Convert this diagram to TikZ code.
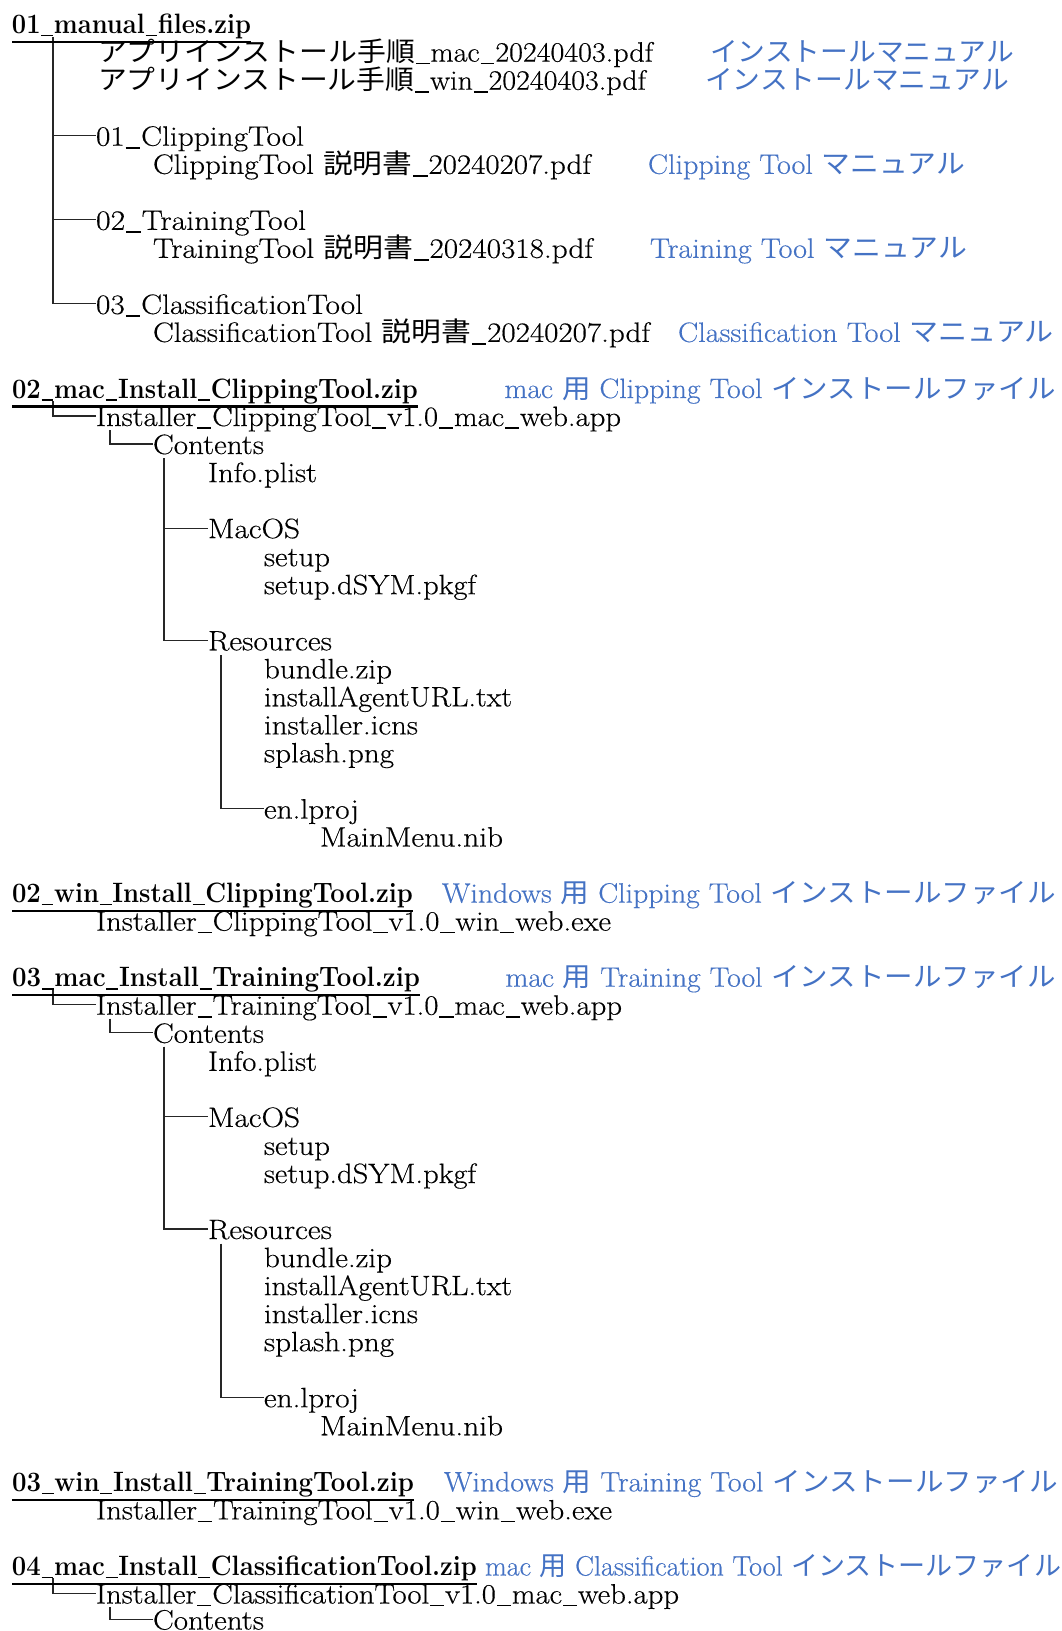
\documentclass[tikz,border=0pt]{standalone}
\usepackage{fontspec}
\usepackage{graphicx}
\setmainfont{Latin Modern Roman}[UprightFeatures={FakeBold=0.35}]
\newfontfamily\jp{Noto Sans CJK JP}[Scale=0.96]
\usetikzlibrary{calc}
\definecolor{mblue}{RGB}{68,114,196}
\newcommand{\fw}[2]{\resizebox{#1pt}{\height}{#2}}
\newcommand{\us}{\kern0.03em\rule[-0.1em]{0.46em}{0.05em}\kern0.03em}
\tikzset{
  txt/.style={anchor=base west, inner sep=0pt, outer sep=0pt, text height=23pt, text depth=3pt, font=\fontsize{28}{28}\selectfont},
  hd/.style={txt, font=\fontsize{28}{28}\selectfont\bfseries},
  bl/.style={txt, text=mblue},
  tree/.style={line width=1.1pt, black!85},
  uline/.style={line width=2.4pt, black},
}
\begin{document}
\begin{tikzpicture}[x=1pt, y=-1pt]
\useasboundingbox (0,0) rectangle (1061,1631);
\fill[white] (0,0) rectangle (1061,1631);

% ---------- 01_manual_files.zip ----------
\node[hd] (h1) at (12,33.6) {\fw{239}{01\us manual\us files.zip}};
\node[txt] (m0) at (98,61.6) {\fw{555}{{\jp アプリインストール手順}\us mac\us 20240403.pdf}};
\node[bl] (b0) at (710,61.6) {\fw{304}{\jp インストールマニュアル}};
\node[txt] (m1) at (98,89.7) {\fw{548}{{\jp アプリインストール手順}\us win\us 20240403.pdf}};
\node[bl] (b1) at (705,89.7) {\fw{304}{\jp インストールマニュアル}};
\node[txt] (m3) at (96,145.7) {\fw{208}{01\us ClippingTool}};
\node[txt] (m4) at (153,173.8) {\fw{438}{ClippingTool {\jp 説明書}\us 20240207.pdf}};
\node[bl] (b4) at (648,173.8) {\fw{317}{Clipping Tool {\jp マニュアル}}};
\node[txt] (m6) at (96,229.8) {\fw{210}{02\us TrainingTool}};
\node[txt] (m7) at (153,257.8) {\fw{440}{TrainingTool {\jp 説明書}\us 20240318.pdf}};
\node[bl] (b7) at (650,257.8) {\fw{317}{Training Tool {\jp マニュアル}}};
\node[txt] (m9) at (96,313.9) {\fw{267}{03\us ClassificationTool}};
\node[txt] (m10) at (153,341.9) {\fw{497}{ClassificationTool {\jp 説明書}\us 20240207.pdf}};
\node[bl] (b10) at (678,341.9) {\fw{376}{Classification Tool {\jp マニュアル}}};

\coordinate (t1) at (53,37);
\draw[tree] (t1) |- (m3.west);
\draw[tree] (t1) |- (m6.west);
\draw[tree] (t1) |- (m9.west);

% ---------- 02_mac_Install_ClippingTool.zip ----------
\node[hd] (h2) at (12,398.0) {\fw{406}{02\us mac\us Install\us ClippingTool.zip}};
\node[bl] (b12) at (504.5,398.0) {\fw{551}{mac {\jp 用} Clipping Tool {\jp インストールファイル}}};
\node[txt] (i2) at (96,426.0) {\fw{525}{Installer\us ClippingTool\us v1.0\us mac\us web.app}};
\node[txt] (c2) at (153,454.0) {\fw{111}{Contents}};
\node[txt] (p2) at (208,482.1) {\fw{109}{Info.plist}};
\node[txt] (o2) at (208,538.1) {\fw{92}{MacOS}};
\node[txt] (s2) at (264,566.2) {\fw{66}{setup}};
\node[txt] (d2) at (264,594.2) {\fw{212}{setup.dSYM.pkgf}};
\node[txt] (r2) at (208,650.3) {\fw{124}{Resources}};
\node[txt] (bz2) at (264,678.3) {\fw{128}{bundle.zip}};
\node[txt] (ia2) at (264,706.3) {\fw{248}{installAgentURL.txt}};
\node[txt] (ic2) at (264,734.4) {\fw{154}{installer.icns}};
\node[txt] (sp2) at (264,762.4) {\fw{130}{splash.png}};
\node[txt] (en2) at (264,818.5) {\fw{95}{en.lproj}};
\node[txt] (mm2) at (320,846.5) {\fw{183}{MainMenu.nib}};

\coordinate (a2) at (53,401);
\coordinate (k2) at (110,430);
\coordinate (v2) at (164,458);
\coordinate (w2) at (221,655);
\draw[tree] (a2) |- (i2.west);
\draw[tree] (k2) |- (c2.west);
\draw[tree] (v2) |- (o2.west);
\draw[tree] (v2) |- (r2.west);
\draw[tree] (w2) |- (en2.west);

% ---------- 02_win_Install_ClippingTool.zip ----------
\node[hd] (h3) at (12,902.6) {\fw{401}{02\us win\us Install\us ClippingTool.zip}};
\node[bl] (b30) at (442,902.6) {\fw{614}{Windows {\jp 用} Clipping Tool {\jp インストールファイル}}};
\node[txt] (i3) at (96,930.6) {\fw{515}{Installer\us ClippingTool\us v1.0\us win\us web.exe}};

% ---------- 03_mac_Install_TrainingTool.zip ----------
\node[hd] (h4) at (12,986.7) {\fw{408}{03\us mac\us Install\us TrainingTool.zip}};
\node[bl] (b33) at (505.5,986.7) {\fw{550}{mac {\jp 用} Training Tool {\jp インストールファイル}}};
\node[txt] (i4) at (96,1014.7) {\fw{526}{Installer\us TrainingTool\us v1.0\us mac\us web.app}};
\node[txt] (c4) at (153,1042.8) {\fw{111}{Contents}};
\node[txt] (p4) at (208,1070.8) {\fw{109}{Info.plist}};
\node[txt] (o4) at (208,1126.9) {\fw{92}{MacOS}};
\node[txt] (s4) at (264,1154.9) {\fw{66}{setup}};
\node[txt] (d4) at (264,1183.0) {\fw{212}{setup.dSYM.pkgf}};
\node[txt] (r4) at (208,1239.0) {\fw{124}{Resources}};
\node[txt] (bz4) at (264,1267.1) {\fw{128}{bundle.zip}};
\node[txt] (ia4) at (264,1295.1) {\fw{248}{installAgentURL.txt}};
\node[txt] (ic4) at (264,1323.1) {\fw{154}{installer.icns}};
\node[txt] (sp4) at (264,1351.2) {\fw{130}{splash.png}};
\node[txt] (en4) at (264,1407.2) {\fw{95}{en.lproj}};
\node[txt] (mm4) at (320,1435.3) {\fw{183}{MainMenu.nib}};

\coordinate (a4) at (53,989.7);
\coordinate (k4) at (110,1018.7);
\coordinate (v4) at (164,1046.7);
\coordinate (w4) at (221,1243.7);
\draw[tree] (a4) |- (i4.west);
\draw[tree] (k4) |- (c4.west);
\draw[tree] (v4) |- (o4.west);
\draw[tree] (v4) |- (r4.west);
\draw[tree] (w4) |- (en4.west);

% ---------- 03_win_Install_TrainingTool.zip ----------
\node[hd] (h5) at (12,1491.3) {\fw{402}{03\us win\us Install\us TrainingTool.zip}};
\node[bl] (b51) at (444,1491.3) {\fw{614}{Windows {\jp 用} Training Tool {\jp インストールファイル}}};
\node[txt] (i5) at (96,1519.4) {\fw{516}{Installer\us TrainingTool\us v1.0\us win\us web.exe}};

% ---------- 04_mac_Install_ClassificationTool.zip ----------
\node[hd] (h6) at (12,1575.5) {\fw{465}{04\us mac\us Install\us ClassificationTool.zip}};
\node[bl] (b54) at (485,1575.5) {\fw{576}{mac {\jp 用} Classification Tool {\jp インストールファイル}}};
\node[txt] (i6) at (96,1603.5) {\fw{583}{Installer\us ClassificationTool\us v1.0\us mac\us web.app}};
\node[txt, text height=20pt, text depth=0pt] (c6) at (153,1629.5) {\fw{111}{Contents}};

\coordinate (a6) at (53,1578.4);
\coordinate (k6) at (110,1607.4);
\draw[tree] (a6) |- (i6.west);
\draw[tree] (k6) |- (c6.west);

% ---------- underlines ----------
\foreach \h in {h1,h2,h3,h4,h5,h6}{
  \draw[uline] ($(\h.base west)+(0,8.5)$) -- ($(\h.base east)+(0,8.5)$);
}
\end{tikzpicture}
\end{document}
